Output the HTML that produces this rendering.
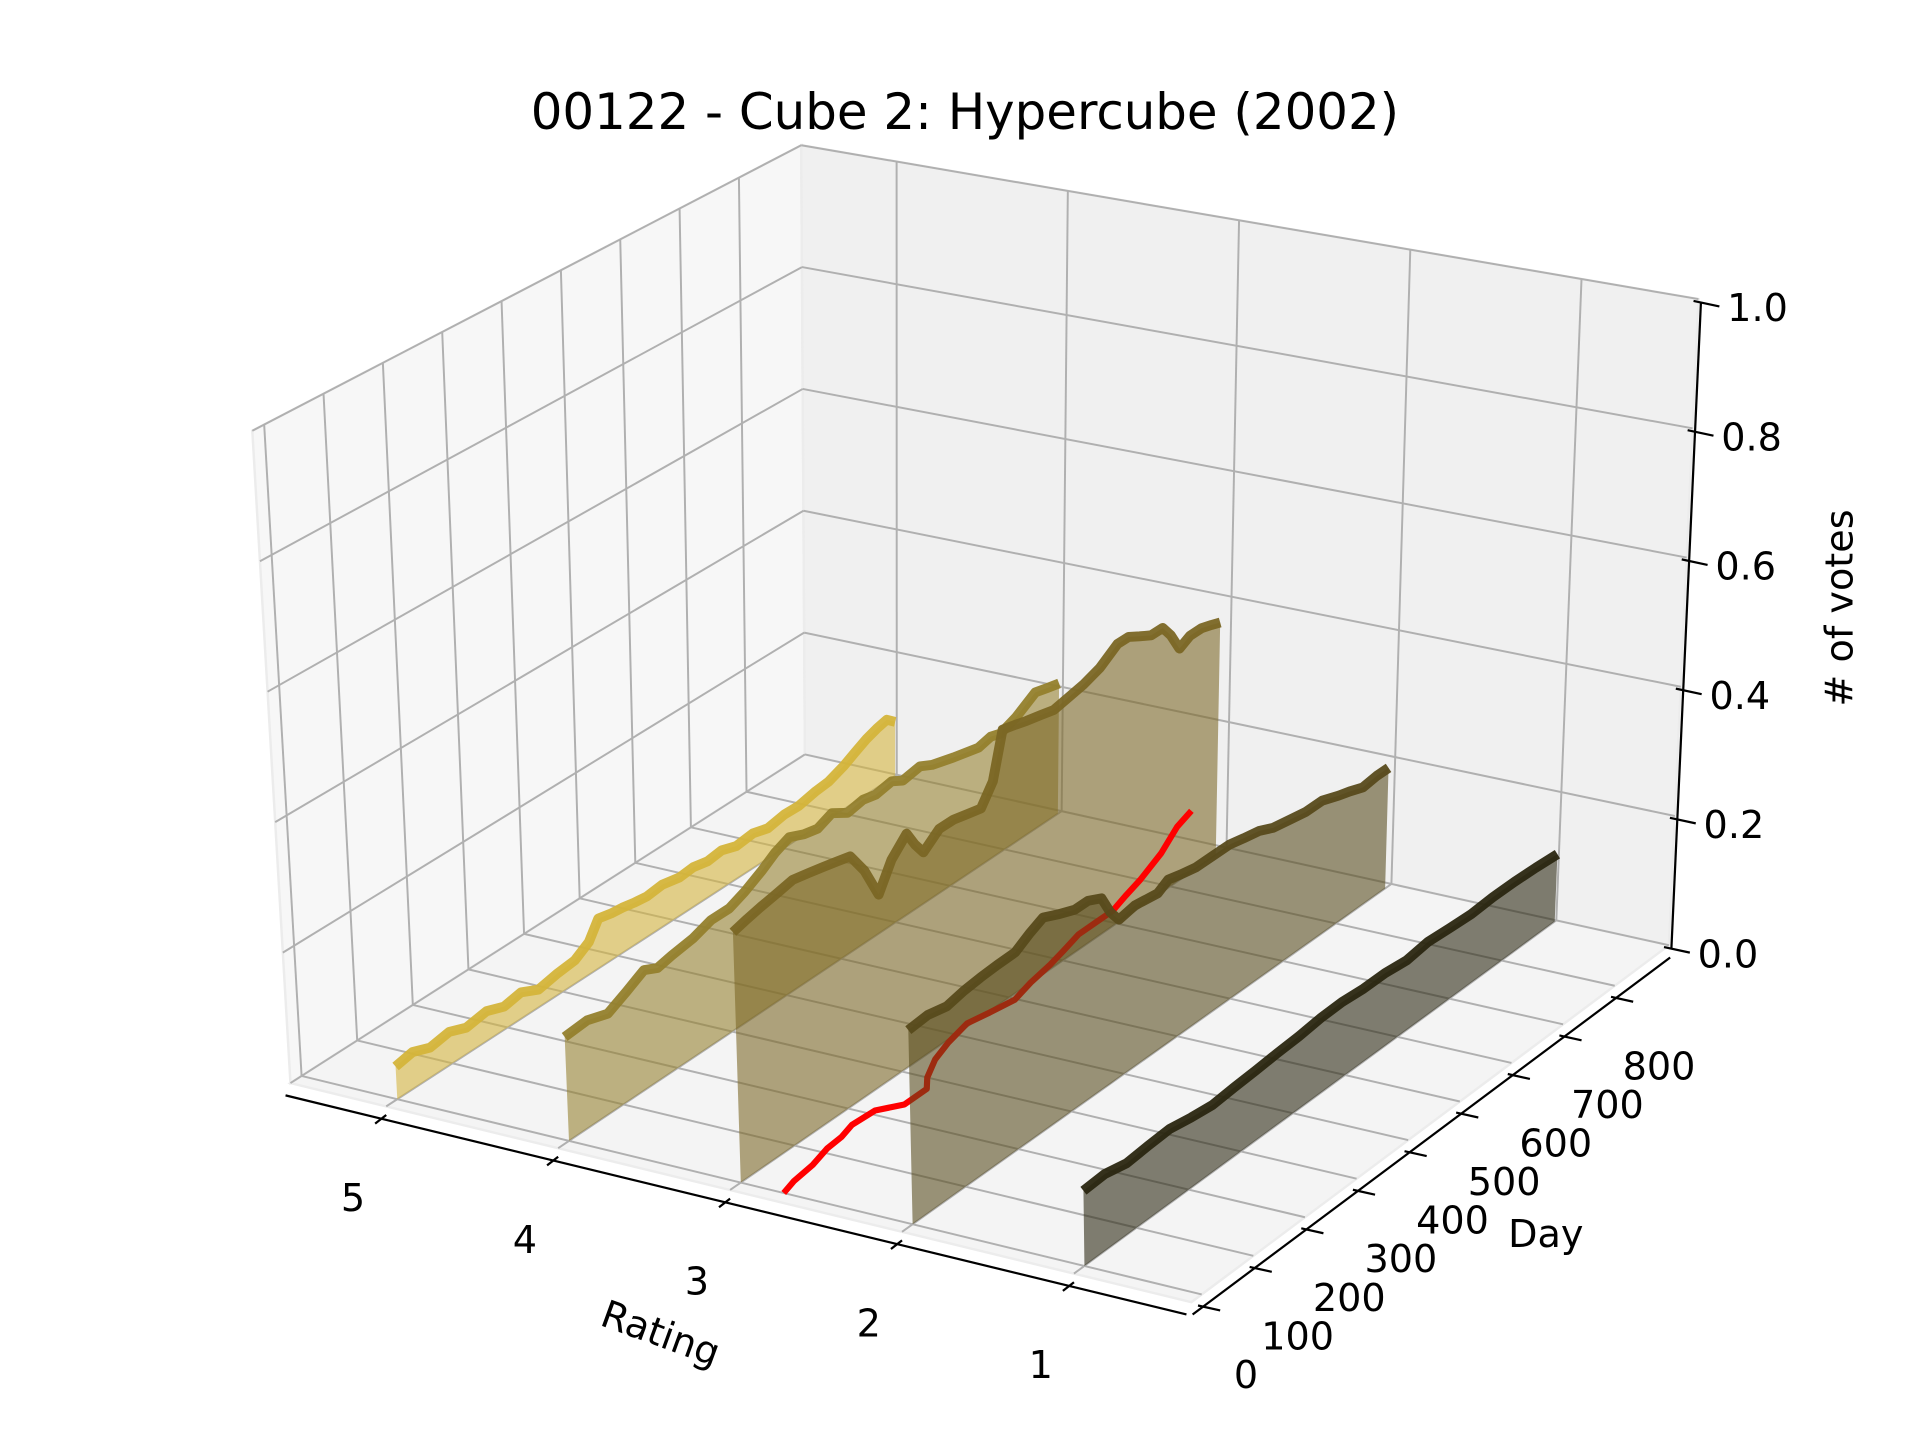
<!DOCTYPE html>
<html><head><meta charset="utf-8"><title>00122 - Cube 2: Hypercube (2002)</title>
<style>html,body{margin:0;padding:0;background:#fff;}svg{display:block;font-family:"DejaVu Sans","Liberation Sans",sans-serif;}</style>
</head><body>
<svg id="chart" xmlns="http://www.w3.org/2000/svg" width="1920" height="1440" viewBox="0 0 1560 1170" preserveAspectRatio="none">
<rect x="0" y="0" width="1560" height="1170" fill="#ffffff"/>
<text x="784" y="105" text-anchor="middle" font-size="40.5" fill="#000">00122 - Cube 2: Hypercube (2002)</text>
<g id="panes"></g>
<g id="grid"></g>
<g id="series"></g>
<g id="axes"></g>
<text x="537" y="1094" text-anchor="middle" font-size="31" transform="rotate(20 537 1083)">Rating</text>
<text x="1256" y="1013" text-anchor="middle" font-size="31">Day</text>
<text x="1516" y="505" text-anchor="middle" font-size="31" transform="rotate(-90 1505 505)"># of votes</text>
</svg>
<script>
const ratingTicks = [5, 4, 3, 2, 1];
const ratingLabels = ["5", "4", "3", "2", "1"];
const dayTicks = [0, 100, 200, 300, 400, 500, 600, 700, 800];
const dayLabels = ["0", "100", "200", "300", "400", "500", "600", "700", "800"];
const voteTicks = [0, 0.2, 0.4, 0.6, 0.8, 1.0];
const voteLabels = ["0.0", "0.2", "0.4", "0.6", "0.8", "1.0"];

const r5Days = [0, 31, 62, 97, 127, 164, 195, 226, 257, 292, 323, 349, 367, 390, 410, 431, 454, 482, 513, 538, 564, 589, 615, 646, 672, 702, 728, 759, 782, 810, 830, 851, 869, 887, 902];
const r5Votes = [0.05, 0.055, 0.045, 0.05, 0.04, 0.045, 0.035, 0.04, 0.027, 0.033, 0.036, 0.05, 0.077, 0.072, 0.07, 0.066, 0.063, 0.066, 0.06, 0.062, 0.057, 0.06, 0.052, 0.055, 0.048, 0.053, 0.052, 0.058, 0.06, 0.07, 0.08, 0.09, 0.096, 0.1, 0.088];
const r4Days = [0, 41, 78, 113, 145, 169, 195, 234, 267, 300, 328, 359, 384, 410, 436, 461, 487, 515, 543, 566, 595, 615, 646, 668, 707, 752, 774, 792, 820, 855, 876, 898];
const r4Votes = [0.157, 0.16, 0.15, 0.165, 0.18, 0.17, 0.175, 0.18, 0.19, 0.19, 0.2, 0.215, 0.23, 0.24, 0.23, 0.225, 0.235, 0.22, 0.225, 0.22, 0.225, 0.215, 0.22, 0.21, 0.2, 0.19, 0.195, 0.19, 0.2, 0.22, 0.215, 0.21];
const r3Days = [0, 26, 51, 82, 109, 138, 164, 190, 213, 238, 263, 287, 315, 330, 345, 374, 400, 425, 450, 472, 490, 513, 533, 559, 583, 610, 636, 666, 698, 718, 738, 759, 780, 795, 811, 830, 851, 869, 885];
const r3Votes = [0.374, 0.38, 0.385, 0.39, 0.395, 0.39, 0.385, 0.38, 0.375, 0.34, 0.29, 0.33, 0.355, 0.33, 0.31, 0.33, 0.33, 0.325, 0.32, 0.35, 0.42, 0.415, 0.41, 0.405, 0.40, 0.405, 0.41, 0.42, 0.44, 0.44, 0.43, 0.42, 0.42, 0.4, 0.37, 0.38, 0.38, 0.375, 0.37];
const r2Days = [0, 36, 71, 103, 134, 164, 198, 226, 250, 277, 308, 333, 358, 374, 390, 420, 462, 482, 505, 533, 564, 595, 622, 651, 677, 707, 738, 769, 800, 820, 845, 871, 893];
const r2Votes = [0.287, 0.29, 0.284, 0.29, 0.293, 0.295, 0.296, 0.31, 0.32, 0.31, 0.30, 0.3, 0.29, 0.26, 0.24, 0.245, 0.24, 0.25, 0.245, 0.24, 0.24, 0.24, 0.235, 0.23, 0.22, 0.215, 0.21, 0.21, 0.2, 0.195, 0.187, 0.19, 0.19];
const r1Days = [0, 41, 82, 123, 164, 205, 246, 287, 328, 369, 410, 451, 492, 533, 574, 615, 656, 697, 738, 779, 820, 861, 902];
const r1Votes = [0.11, 0.112, 0.105, 0.108, 0.11, 0.104, 0.1, 0.103, 0.105, 0.108, 0.11, 0.114, 0.115, 0.112, 0.112, 0.108, 0.113, 0.11, 0.108, 0.11, 0.11, 0.108, 0.105];
const meanDays = [0, 29, 70, 110, 140, 169, 209, 235, 277, 300, 340, 380, 428, 460, 498, 540, 586, 620, 660, 690, 724, 760, 800, 851, 880, 900];
const meanRating = [2.75, 2.78, 2.8, 2.84, 2.85, 2.88, 2.87, 2.78, 2.78, 2.85, 2.93, 2.98, 3.02, 2.99, 2.96, 3.0, 3.03, 3.06, 3.1, 3.1, 3.1, 3.14, 3.18, 3.22, 3.22, 3.2];
const meanZ = [0, 0, 0, 0, 0, 0, 0, 0, 0, 0, 0, 0, 0, 0, 0, 0, 0, 0, 0, 0, 0, 0, 0, 0.01, 0.035, 0.05];

const RMAX = 5.557, RMIN = 0.317, DMIN = -20, DMAX = 905, ZMAX = 1.0;
const A = [236, 880], B = [968, 1058], C = [1356, 768], D = [654, 613];
const ZA = [-31, -530], ZB = [-4, -560], ZC = [24, -525], ZD = [-3, -495];
function bil(a, b, c, d, u, v) {
  const fx = a[0] + (b[0] - a[0]) * u, fy = a[1] + (b[1] - a[1]) * u;
  const bx = d[0] + (c[0] - d[0]) * u, by = d[1] + (c[1] - d[1]) * u;
  return [fx + (bx - fx) * v, fy + (by - fy) * v];
}
function P(r, d, z) {
  const u = (RMAX - r) / (RMAX - RMIN), v = (d - DMIN) / (DMAX - DMIN);
  const f = bil(A, B, C, D, u, v), zv = bil(ZA, ZB, ZC, ZD, u, v);
  return [f[0] + zv[0] * z, f[1] + zv[1] * z];
}
const NS = "http://www.w3.org/2000/svg";
function mk(tag, attrs, parent) {
  const e = document.createElementNS(NS, tag);
  for (const k in attrs) e.setAttribute(k, attrs[k]);
  parent.appendChild(e);
  return e;
}
function pts(arr) { return arr.map(p => p[0].toFixed(1) + "," + p[1].toFixed(1)).join(" "); }

const panes = document.getElementById("panes");
const grid = document.getElementById("grid");
const series = document.getElementById("series");
const axes = document.getElementById("axes");

let e;
e = mk("polygon", {points: pts([P(RMAX, DMIN, 0), P(RMAX, DMAX, 0), P(RMAX, DMAX, ZMAX), P(RMAX, DMIN, ZMAX)]), fill: "#f7f7f7", stroke: "#ececec", "stroke-width": 2}, panes);


e = mk("polygon", {points: pts([P(RMAX, DMAX, 0), P(RMIN, DMAX, 0), P(RMIN, DMAX, ZMAX), P(RMAX, DMAX, ZMAX)]), fill: "#f0f0f0", stroke: "#ececec", "stroke-width": 2}, panes);


e = mk("polygon", {points: pts([P(RMAX, DMIN, 0), P(RMIN, DMIN, 0), P(RMIN, DMAX, 0), P(RMAX, DMAX, 0)]), fill: "#f4f4f4", stroke: "#ececec", "stroke-width": 2}, panes);



const gs = {stroke: "#b0b0b0", "stroke-width": 1.6, fill: "none"};
function gline(p, q) { return mk("line", Object.assign({x1: p[0], y1: p[1], x2: q[0], y2: q[1]}, gs), grid); }
dayTicks.forEach(d => {
  e = gline(P(RMAX, d, 0), P(RMAX, d, ZMAX));
  
  
  e = gline(P(RMAX, d, 0), P(RMIN, d, 0));
  
  
});
ratingTicks.forEach(r => {
  e = gline(P(r, DMAX, 0), P(r, DMAX, ZMAX));
  
  
  e = gline(P(r, DMIN, 0), P(r, DMAX, 0));
  
  
});
voteTicks.forEach(z => {
  e = gline(P(RMAX, DMIN, z), P(RMAX, DMAX, z));
  
  
  e = gline(P(RMAX, DMAX, z), P(RMIN, DMAX, z));
  
  
});

function drawSeries(r, days, votes, color, name) {
  const top = days.map((d, i) => P(r, d, votes[i]));
  const bottom = days.map(d => P(r, d, 0)).reverse();
  let f = mk("polygon", {points: pts(top.concat(bottom)), fill: color, "fill-opacity": 0.58, stroke: "none"}, series);
  
  
  let l = mk("polyline", {points: pts(top), fill: "none", stroke: color, "stroke-width": 8, "stroke-linejoin": "round", "stroke-opacity": 0.95}, series);
  
  
}
drawSeries(5, r5Days, r5Votes, "#d4b43a", "rating-5");
drawSeries(4, r4Days, r4Votes, "#94802c", "rating-4");
drawSeries(3, r3Days, r3Votes, "#7a6624", "rating-3");
const meanPts = meanDays.map((d, i) => P(meanRating[i], d, meanZ[i]));
e = mk("polyline", {points: pts(meanPts), fill: "none", stroke: "#ff0000", "stroke-width": 5, "stroke-linejoin": "round"}, series);


drawSeries(2, r2Days, r2Votes, "#574a1b", "rating-2");
drawSeries(1, r1Days, r1Votes, "#2a2610", "rating-1");

const ax = {stroke: "#000", "stroke-width": 1.8, fill: "none"};
function off(p, o) { return [p[0] + o[0], p[1] + o[1]]; }
const rOff = [-4, 10], dOff = [1, 10], zOff = [2, 3];
let p1 = off(bil(A, B, C, D, 0, 0), rOff), p2 = off(bil(A, B, C, D, 1, 0), rOff);
e = mk("line", Object.assign({x1: p1[0], y1: p1[1], x2: p2[0], y2: p2[1]}, ax), axes);


p1 = off(P(RMIN, DMIN, 0), dOff); p2 = off(P(RMIN, DMAX, 0), dOff);
e = mk("line", Object.assign({x1: p1[0], y1: p1[1], x2: p2[0], y2: p2[1]}, ax), axes);


p1 = off(P(RMIN, DMAX, 0), zOff); p2 = off(P(RMIN, DMAX, ZMAX), zOff);
e = mk("line", Object.assign({x1: p1[0], y1: p1[1], x2: p2[0], y2: p2[1]}, ax), axes);



ratingTicks.forEach((r, i) => {
  const p = off(P(r, DMIN, 0), rOff);
  let t = mk("line", {x1: p[0] - 5, y1: p[1] + 4, x2: p[0] + 4, y2: p[1] - 3, stroke: "#000", "stroke-width": 1.8}, axes);
  
  
  let l = mk("text", {x: p[0] - 23, y: p[1] + 75, "text-anchor": "middle", "font-size": 31}, axes);
  l.textContent = ratingLabels[i];
  
  
});
dayTicks.forEach((d, i) => {
  const p = off(P(RMIN, d, 0), dOff);
  let t = mk("line", {x1: p[0] - 4, y1: p[1] - 1, x2: p[0] + 14, y2: p[1] + 3, stroke: "#000", "stroke-width": 1.8}, axes);
  
  
  let l = mk("text", {x: p[0] + 35, y: p[1] + 66, "text-anchor": "middle", "font-size": 31}, axes);
  l.textContent = dayLabels[i];
  
  
});
voteTicks.forEach((z, i) => {
  const p = off(P(RMIN, DMAX, z), zOff);
  let t = mk("line", {x1: p[0] - 6, y1: p[1] - 1.5, x2: p[0] + 15, y2: p[1] + 3, stroke: "#000", "stroke-width": 1.8}, axes);
  
  
  let l = mk("text", {x: p[0] + 46, y: p[1] + 15, "text-anchor": "middle", "font-size": 31}, axes);
  l.textContent = voteLabels[i];
  
  
});
</script>
</body></html>
